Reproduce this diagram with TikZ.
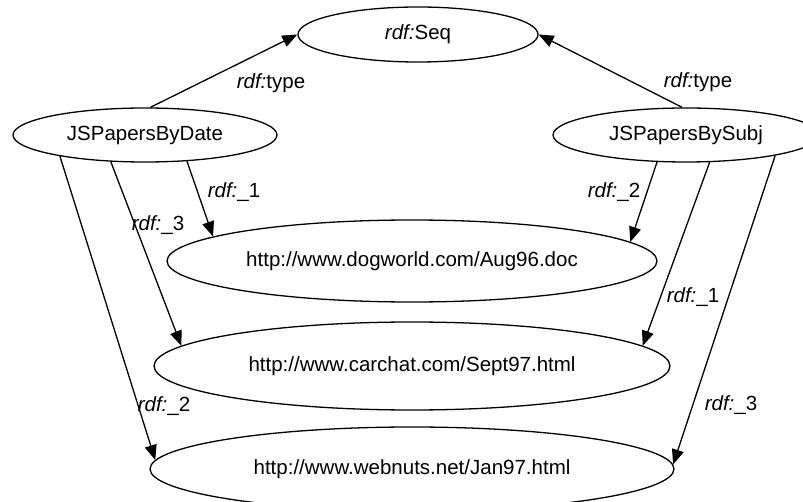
\documentclass[tikz,border=0pt]{standalone}
\usepackage{fontspec}
\setmainfont{Liberation Sans}
\usetikzlibrary{shapes.geometric,arrows.meta}
\newcommand\rdfp{\textit{rdf:}}
\begin{document}
\begin{tikzpicture}[x=1pt,y=-1pt,
  res/.style={draw, ellipse, line width=1.3pt, inner sep=0pt,
    font=\fontsize{20.5}{24}\selectfont},
  rel/.style={line width=1.3pt, -{Triangle[length=15pt,width=12pt]}},
  lbl/.style={inner sep=0pt, font=\fontsize{20.5}{24}\selectfont}]
\fill[white] (0,0) rectangle (803,502);
\useasboundingbox (0,0) rectangle (803,502);

% resources
\node[res, minimum width=240pt, minimum height=55pt] (seq) at (418,34.5) {\rdfp Seq};
\node[res, minimum width=264pt, minimum height=54pt] (date) at (145,135) {JSPapersByDate};
\node[res, minimum width=266pt, minimum height=54pt] (subj) at (686,135) {JSPapersBySubj};
\node[res, minimum width=490pt, minimum height=82pt] (dog) at (412,261) {http://www.dogworld.com/Aug96.doc};
\node[res, minimum width=516pt, minimum height=88pt] (car) at (412,366) {http://www.carchat.com/Sept97.html};
\node[res, minimum width=524pt, minimum height=84pt] (web) at (412,469) {http://www.webnuts.net/Jan97.html};

% properties
\draw[rel] (date.79.5) -- (seq.180);
\draw[rel] (subj.98.4) -- (seq.0);
\draw[rel] (date.-32.5) -- (dog.173.1);
\draw[rel] (date.-142.9) -- (car.175.7);
\draw[rel] (date.-166.6) -- (web.178.7);
\draw[rel] (subj.-137.7) -- (dog.5.45);
\draw[rel] (subj.-49.1) -- (car.5.1);
\draw[rel] (subj.-13.4) -- (web.1.3);

% property labels
\node[lbl] (t1) at (271,83) {\rdfp type};
\node[lbl] (t2) at (698,82) {\rdfp type};
\node[lbl] (a1) at (234,192) {\rdfp\_1};
\node[lbl] (a3) at (158,225) {\rdfp\_3};
\node[lbl] (a2) at (164,406) {\rdfp\_2};
\node[lbl] (b2) at (614,192) {\rdfp\_2};
\node[lbl] (b1) at (693,297) {\rdfp\_1};
\node[lbl] (b3) at (731,405) {\rdfp\_3};
\end{tikzpicture}
\end{document}
